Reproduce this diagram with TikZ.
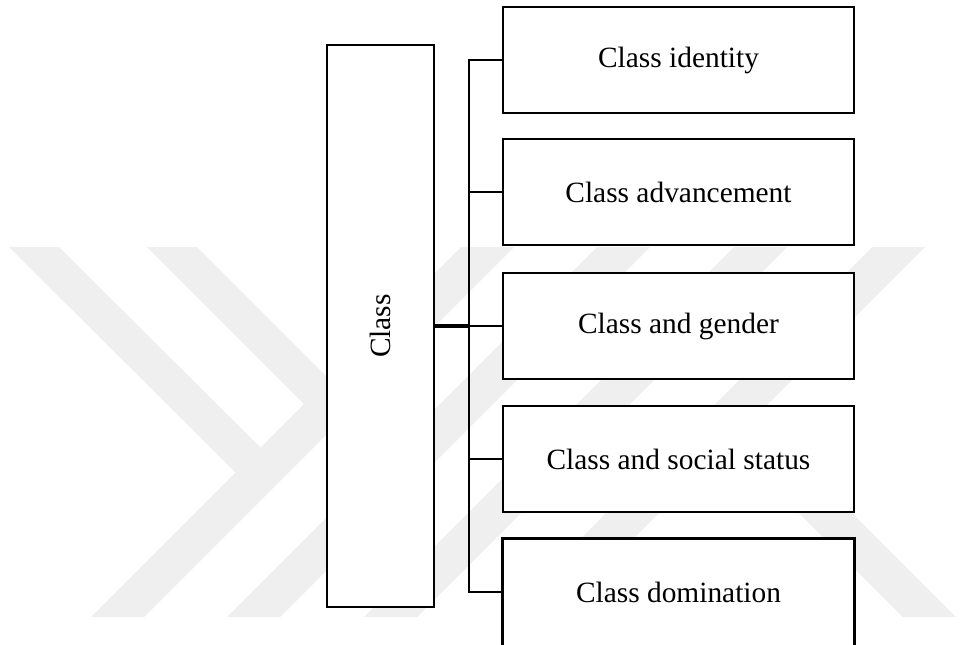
\documentclass[tikz,border=0pt]{standalone}
\usepackage{fontspec}
\setmainfont{Liberation Serif}
\definecolor{wmgrey}{HTML}{EFEFEF}
\tikzset{
  boxstyle/.style={draw=black, line width=1.3pt, fill=white, inner sep=0pt,
    minimum width=175.5pt, minimum height=53pt,
    font=\fontsize{14.7}{17.6}\selectfont},
  openbox/.style={inner sep=0pt, minimum width=175.5pt, minimum height=53pt,
    font=\fontsize{14.7}{17.6}\selectfont},
  mainbox/.style={draw=black, line width=1.3pt, fill=white, inner sep=0pt,
    minimum width=53.5pt, minimum height=281pt,
    font=\fontsize{14.7}{17.6}\selectfont},
  conn/.style={draw=black, line width=1.3pt},
  thickconn/.style={draw=black, line width=2.2pt},
  wm/.style={fill=wmgrey, draw=none}
}
\begin{document}
\begin{tikzpicture}[x=0.5pt, y=-0.5pt]
\useasboundingbox (0,0) rectangle (979,644);
% watermark
\fill[wm] (9,247) -- (59,247) -- (287,474) -- (236,473) -- cycle;
\fill[wm] (147,247) -- (197,247) -- (356,406) -- (304,404) -- cycle;
\fill[wm] (91,617) -- (144,617) -- (514,247) -- (461,247) -- cycle;
\fill[wm] (227,617) -- (280,617) -- (650,247) -- (597,247) -- cycle;
\fill[wm] (364,617) -- (417,617) -- (787,247) -- (734,247) -- cycle;
\fill[wm] (502,617) -- (555,617) -- (925,247) -- (872,247) -- cycle;
\fill[wm] (702,416) -- (755,416) -- (956,617) -- (903,617) -- cycle;
% nodes
\node[mainbox] (cls) at (380.5,326) {\rotatebox{90}{Class}};
\node[boxstyle] (b1) at (678.5,60) {Class identity};
\node[boxstyle] (b2) at (678.5,192) {Class advancement};
\node[boxstyle] (b3) at (678.5,326) {Class and gender};
\node[boxstyle] (b4) at (678.5,459) {Class and social status};
\node[openbox] (b5) at (678.5,592) {};
\draw[fill=white, line width=1.3pt] (b5.north west) rectangle ([yshift=-10pt]b5.south east);
\node[openbox] at (b5.center) {Class domination};
% bus
\coordinate (bt) at (469,60);
\coordinate (bb) at (469,592);
\draw[conn, line join=miter] (b1.west) -- (bt) -- (bb) -- (b5.west);
\draw[conn] (b2.west) -- (b2.west -| bt);
\draw[conn] (b3.west) -- (b3.west -| bt);
\draw[conn] (b4.west) -- (b4.west -| bt);
\draw[thickconn] (cls.east) -- (cls.east -| bt);
\end{tikzpicture}
\end{document}
